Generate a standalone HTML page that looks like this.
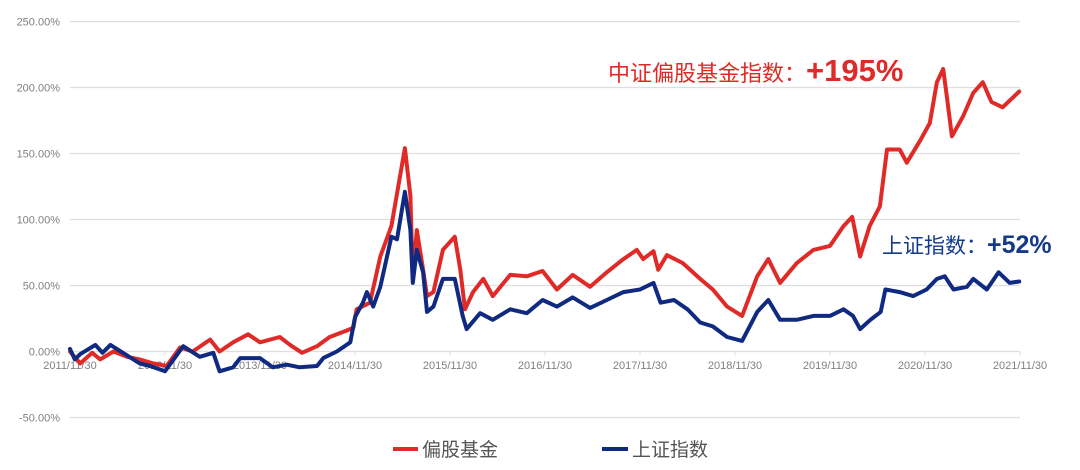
<!DOCTYPE html>
<html><head><meta charset="utf-8">
<style>
body{margin:0;background:#fff;}
svg{display:block;font-family:"Liberation Sans","Noto Sans CJK SC",sans-serif;}
</style></head>
<body>
<svg id="chart" width="1080" height="470" viewBox="0 0 1080 470">
  <g id="grid"></g>
  <g id="yaxis"></g>
  <g id="xaxis"></g>
  <g id="series"></g>
  <text x="608" y="81" fill="#e02a27" font-size="22">中证偏股基金指数：<tspan font-size="31" font-weight="bold">+195%</tspan></text>
  <text x="882" y="253" fill="#143a8a" font-size="21">上证指数：<tspan font-size="25" font-weight="bold">+52%</tspan></text>
  <g>
    <g>
      <line x1="393" y1="449" x2="418" y2="449" stroke="#e02a27" stroke-width="4"/>
      <text x="422" y="456" font-size="19" fill="#555">偏股基金</text>
    </g>
    <g>
      <line x1="602" y1="449" x2="628" y2="449" stroke="#0f2a80" stroke-width="4"/>
      <text x="632" y="456" font-size="19" fill="#555">上证指数</text>
    </g>
  </g>
</svg>
<script>
const yTicks=[-50,0,50,100,150,200,250];
const yTickLabels=["-50.00%","0.00%","50.00%","100.00%","150.00%","200.00%","250.00%"];
const xTickMonths=[0,12,24,36,48,60,72,84,96,108,120];
const xTickLabels=["2011/11/30","2012/11/30","2013/11/30","2014/11/30","2015/11/30","2016/11/30","2017/11/30","2018/11/30","2019/11/30","2020/11/30","2021/11/30"];
const fundMonths=[0,1.3,2.8,3.8,5.5,7.2,8.8,10.5,12.2,13.9,15.5,17.7,18.9,20.6,22.5,24,26.5,27.8,29.3,31.2,32.8,35,35.8,36.2,37.9,39.2,40.6,41.4,42.3,43,43.3,43.8,44.6,45.1,45.9,47.1,48.6,49.3,49.9,50.9,52.2,53.4,55.6,57.7,59.7,61.5,63.5,65.7,67.8,69.9,71.6,72.4,73.7,74.3,75.4,77.4,79.6,81.2,83,84.9,86.8,88.2,89.7,91.8,93.9,96,97.7,98.8,99.8,101,102.3,103.2,104.8,105.7,107.4,108.6,109.5,110.3,110.8,111.4,112.8,114.1,115.3,116.4,117.8,119.9];
const fundValues=[0,-9,-1,-6,0,-4,-6,-9,-11,3,0,9,0,7,13,7,11,5,-1,4,11,16,18,32,37,72,95,123,154,118,55,92,62,42,45,77,87,62,32,45,55,42,58,57,61,47,58,49,60,70,77,70,76,62,73,67,55,47,34,27,57,70,52,67,77,80,95,102,72,95,110,153,153,143,160,173,204,214,191,163,178,196,204,189,185,197];
const indexMonths=[0,0.6,1.3,3.2,4.1,5.1,6.7,8.8,10.1,12,14.3,16.4,18.1,18.9,20.6,21.5,24,25.6,27.4,29,31.2,32,33.7,35.4,36,37,37.5,38.3,39.2,40.6,41.3,42.3,43,43.3,43.8,44.6,45.1,45.9,47.1,48.6,49.6,50.1,51.8,53.4,55.6,57.7,59.7,61.5,63.5,65.7,67.8,69.9,72,73.7,74.6,76.3,78,79.6,81.2,83,84.9,86.8,88.2,89.7,91.8,93.9,96,97.7,98.9,99.8,101.1,102.4,103,104.8,106.5,108.2,109.5,110.5,111.6,113.3,114.1,115.8,117.3,118.7,119.9];
const indexValues=[2,-6,-2,5,-1,5,-1,-9,-11,-15,4,-4,-1,-15,-12,-5,-5,-12,-10,-12,-11,-5,0,7,26,37,45,34,49,87,85,121,92,52,77,60,30,34,55,55,27,17,29,24,32,29,39,34,41,33,39,45,47,52,37,39,32,22,19,11,8,30,39,24,24,27,27,32,27,17,24,30,47,45,42,47,55,57,47,49,55,47,60,52,53];

const NS="http://www.w3.org/2000/svg";
const X0=70,X1=1020,Y0=351.5,PX_PER_PCT=66/50;
function xScale(m){return X0+m*(X1-X0)/120;}
function yScale(v){return Y0-v*PX_PER_PCT;}
function mk(tag,attrs,parent){const e=document.createElementNS(NS,tag);for(const k in attrs)e.setAttribute(k,attrs[k]);parent.appendChild(e);return e;}

const grid=document.getElementById('grid'),yaxis=document.getElementById('yaxis'),xaxis=document.getElementById('xaxis'),series=document.getElementById('series');
yTicks.forEach((v,i)=>{
  const l=mk('line',{x1:X0,x2:X1,y1:yScale(v),y2:yScale(v),stroke:'#dedede','stroke-width':1.3},grid);
  
  
  const t=mk('text',{x:60,y:yScale(v)+4,'text-anchor':'end','font-size':11,fill:'#808080'},yaxis);
  t.textContent=yTickLabels[i];
  
  
});
xTickMonths.forEach((m,i)=>{
  const tk=mk('line',{x1:xScale(m),x2:xScale(m),y1:Y0,y2:Y0+4,stroke:'#dedede','stroke-width':1},xaxis);
  
  
  const t=mk('text',{x:xScale(m),y:369,'text-anchor':'middle','font-size':11,fill:'#808080'},xaxis);
  t.textContent=xTickLabels[i];
  
  
});
function drawLine(ms,vs,color,name){
  const pts=ms.map((m,i)=>xScale(m).toFixed(1)+','+yScale(vs[i]).toFixed(1)).join(' ');
  const p=mk('polyline',{points:pts,fill:'none',stroke:color,'stroke-width':4,'stroke-linejoin':'round','stroke-linecap':'round'},series);
  
  
}
drawLine(fundMonths,fundValues,'#e02a27','fund-index-line');
drawLine(indexMonths,indexValues,'#0f2a80','shanghai-index-line');
</script>
</body></html>
